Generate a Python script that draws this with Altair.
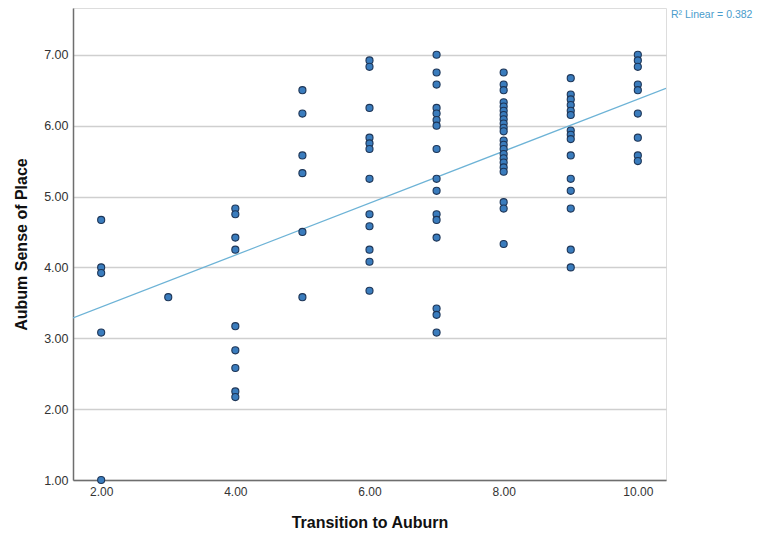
import altair as alt
import pandas as pd

# Values (Transition to Auburn -> Aubum Sense of Place)
y_at_2 = [4.67, 4.00, 3.92, 3.08, 1.00]
y_at_3 = [3.58]
y_at_4 = [4.83, 4.75, 4.42, 4.25, 3.17, 2.83, 2.58, 2.25, 2.17]
y_at_5 = [6.50, 6.17, 5.58, 5.33, 4.50, 3.58]
y_at_6 = [6.92, 6.83, 6.25, 5.83, 5.75, 5.67, 5.25, 4.75, 4.58, 4.25, 4.08, 3.67]
y_at_7 = [7.00, 6.75, 6.58, 6.25, 6.17, 6.08, 6.00, 5.67, 5.25, 5.08, 4.75, 4.67,
          4.42, 3.42, 3.33, 3.08]
y_at_8 = [6.75, 6.58, 6.50, 6.33, 6.27, 6.21, 6.15, 6.09, 6.03, 5.97, 5.92,
          5.79, 5.73, 5.67, 5.60, 5.54, 5.48, 5.41, 5.35, 4.92, 4.83, 4.33]
y_at_9 = [6.67, 6.44, 6.37, 6.29, 6.21, 6.15, 5.93, 5.87, 5.81, 5.58, 5.25, 5.08,
          4.83, 4.25, 4.00]
y_at_10 = [7.00, 6.92, 6.83, 6.58, 6.50, 6.17, 5.83, 5.58, 5.50]

groups = {2: y_at_2, 3: y_at_3, 4: y_at_4, 5: y_at_5, 6: y_at_6,
          7: y_at_7, 8: y_at_8, 9: y_at_9, 10: y_at_10}

x_ticks = [2, 4, 6, 8, 10]
y_ticks = [1, 2, 3, 4, 5, 6, 7]
r2_label = "R\u00b2 Linear = 0.382"

rows = [{"x": float(k), "y": v} for k, vals in groups.items() for v in vals]
df = pd.DataFrame(rows)

FONT = "Liberation Sans"
W, H = 593, 472

x_enc = alt.X("x:Q",
              scale=alt.Scale(domain=[1.58, 10.42], nice=False, zero=False),
              axis=alt.Axis(values=x_ticks, format=".2f", title="Transition to Auburn",
                            grid=False, ticks=False, labelPadding=6,
                            labelFontSize=12, labelColor="#333333", labelFont=FONT,
                            titleFont=FONT, titleFontSize=16, titleFontWeight="bold",
                            titleColor="#111111", titlePadding=17,
                            domainColor="#6e6e6e", domainWidth=1.5))
y_enc = alt.Y("y:Q",
              scale=alt.Scale(domain=[1.0, 7.66], nice=False, zero=False),
              axis=alt.Axis(values=y_ticks, format=".2f", title="Aubum Sense of Place",
                            grid=True, gridColor="#cfcfcf", gridWidth=1.5,
                            ticks=False, labelPadding=5,
                            labelFontSize=12.5, labelColor="#333333", labelFont=FONT,
                            titleFont=FONT, titleFontSize=16, titleFontWeight="bold",
                            titleColor="#111111", titlePadding=14,
                            domainColor="#6e6e6e", domainWidth=1.5))

base = alt.Chart(df)

points = base.mark_point(filled=True, shape="circle", size=50, fill="#3a7cbd",
                         stroke="#1d3557", strokeWidth=1.1, opacity=1).encode(x=x_enc, y=y_enc)

line = base.transform_regression("x", "y", extent=[1.58, 10.42]).mark_line(
    color="#6db3d6", strokeWidth=1.3, clip=True).encode(x="x:Q", y="y:Q")

label = alt.Chart(pd.DataFrame({"t": [r2_label]})).mark_text(
    align="left", baseline="middle", font=FONT, fontSize=10.5, color="#4a9ccc"
).encode(x=alt.value(598), y=alt.value(7), text="t:N")

chart = alt.layer(line, points, label).properties(
    width=W, height=H,
    autosize=alt.AutoSizeParams(type="none"),
    padding={"left": 65, "top": 0, "right": 92, "bottom": 52},
).configure_view(stroke=None).configure(background="white")

chart.save("out.html", embed_options={"renderer": "svg", "actions": False})
